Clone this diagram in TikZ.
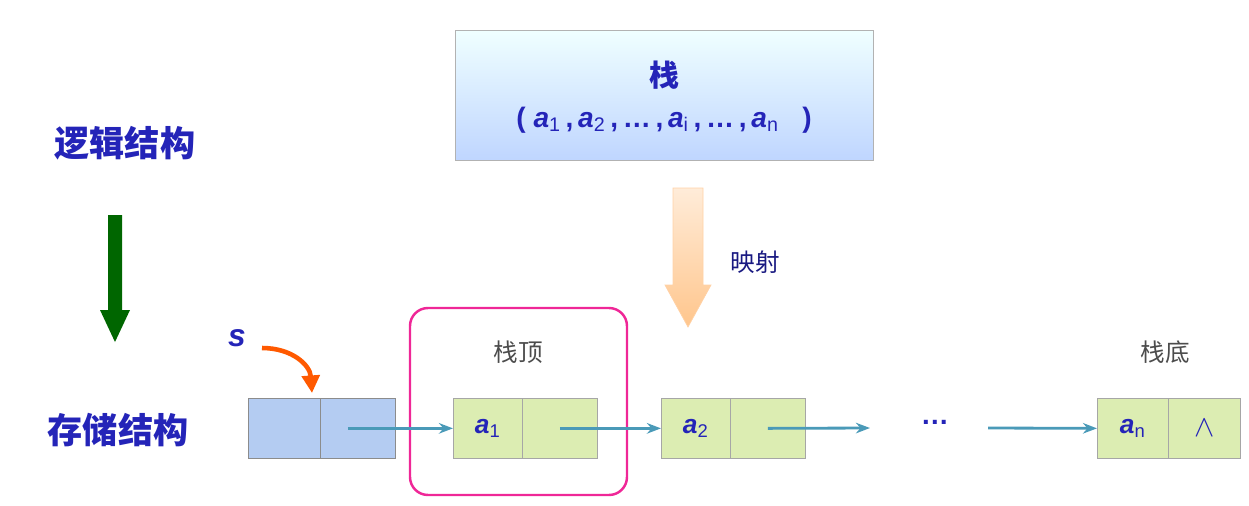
\documentclass[tikz,border=0pt]{standalone}
\usepackage{fontspec}
\setmainfont{Liberation Sans}
\newfontfamily\cjk{Noto Sans CJK SC}
\usetikzlibrary{arrows.meta}
\definecolor{tblue}{HTML}{2424B8}
\definecolor{cellg}{HTML}{DCEDB2}
\definecolor{cellb}{HTML}{B4CCF2}
\definecolor{teal}{HTML}{4A9AB8}
\tikzset{
 lbl/.style={font=\cjk\bfseries\fontsize{20}{22}\selectfont,text=tblue},
 sm/.style={font=\cjk\fontsize{14}{16}\selectfont,text=black!70},
 cellG/.style={draw=black!35,fill=cellg,minimum width=69\px,minimum height=60\px,inner sep=0pt,anchor=north west},
 cellB/.style={draw=black!45,fill=cellb,minimum width=72\px,minimum height=60\px,inner sep=0pt,anchor=north west},
 ptr/.style={teal,line width=1.6pt,-{Stealth[length=8pt,width=6pt]}},
 var/.style={font=\bfseries\itshape\fontsize{15}{17}\selectfont,text=tblue},
}
\newlength{\px}\setlength{\px}{0.02cm}
\newcommand{\ai}[1]{{\itshape a}\textsubscript{\upshape\mdseries #1}}
\begin{document}
\begin{tikzpicture}[x=0.02cm,y=-0.02cm]
\useasboundingbox (0,0) rectangle (1249,505);
% top box
\shade[top color=cyan!6,bottom color=cyan!35!blue!25,draw=black!30] (455,30) rectangle (873,160);
\node[lbl,font=\cjk\bfseries\fontsize{17}{19}\selectfont] (zh) at (664,75) {栈};
\node[var,font=\bfseries\fontsize{16}{18}\selectfont] (seq) at (664,120) {(\ \ai{1}\,,\,\ai{2}\,,\,…\,,\,\ai{i}\,,\,…\,,\,\ai{n}\ \ \ )};
\node[lbl] (lj) at (125,143) {逻辑结构};
\node[lbl] (cc) at (118,430) {存储结构};
\fill[green!40!black] (108,215) -- (122,215) -- (122,310) -- (130,310) -- (115,342) -- (100,310) -- (108,310) -- cycle;
\shade[top color=orange!15,bottom color=orange!45,draw=orange!35] (673,188) -- (703,188) -- (703,285) -- (711,285) -- (688,327) -- (665,285) -- (673,285) -- cycle;
\node[font=\cjk\fontsize{14}{16}\selectfont,text=tblue!70!black] (ys) at (755,262) {映射};
\draw[magenta!80!pink,line width=1.4pt,rounded corners=18\px] (410,308) rectangle (627,495);
\node[sm] (top) at (518,352) {栈顶};
\node[sm] (bot) at (1165,352) {栈底};
% cells
\node[cellB] (s1) at (248,398) {};
\node[cellB,minimum width=75\px] (s2) at (320,398) {};
\node[cellG] (a1) at (453,398) {};
\node[cellG,minimum width=75\px] (a1n) at (522,398) {};
\node[cellG] (a2) at (661,398) {};
\node[cellG,minimum width=75\px] (a2n) at (730,398) {};
\node[cellG,minimum width=71\px] (an) at (1097,398) {};
\node[cellG,minimum width=72\px] (ann) at (1168,398) {};
\node[var] at (a1.center) {\ai{1}};
\node[var] at (a2.center) {\ai{2}};
\node[var] at (an.center) {\ai{n}};
\node[font=\fontsize{18}{20}\selectfont,text=tblue] at (ann.center) {$\wedge$};
\node[font=\bfseries\fontsize{16}{18}\selectfont,text=tblue] (dots) at (935,422) {…};
\coordinate (e1) at (870,428);
\coordinate (b1) at (988,428);
\draw[ptr] (s2.center) ++(-10\px,0) -- (a1.west);
\draw[ptr] (a1n.center) -- (a2.west);
\draw[ptr] (a2n.center) -- (e1);
\draw[ptr] (b1) -- (an.west);
\node[var,font=\bfseries\itshape\fontsize{18}{20}\selectfont] (s) at (237,338) {s};
\draw[orange!70!red,line width=2.6pt,-{Triangle[length=10pt,width=10pt]}] (262,348) .. controls (292,348) and (310,365) .. (312,393);
\end{tikzpicture}
\end{document}
